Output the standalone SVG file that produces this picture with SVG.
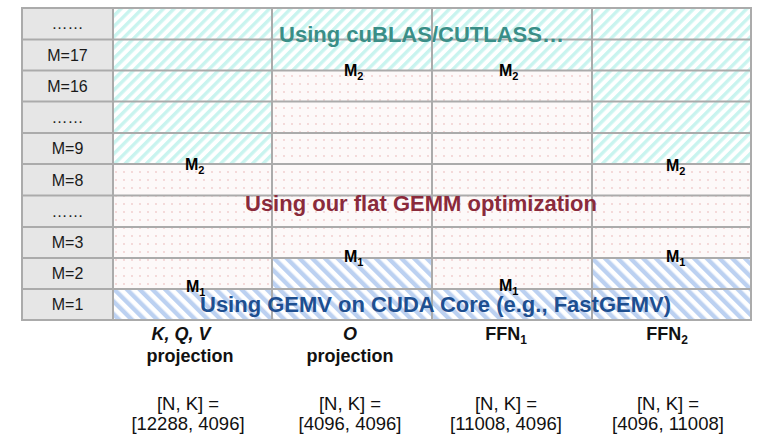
<svg xmlns="http://www.w3.org/2000/svg" width="771" height="441" viewBox="0 0 771 441">
<defs>
<pattern id="cyan" patternUnits="userSpaceOnUse" width="7.5" height="8" patternTransform="rotate(45)">
<rect width="7.5" height="8" fill="#ffffff"/>
<rect width="3.4" height="8" fill="#c9f4ef"/>
</pattern>
<pattern id="blue" patternUnits="userSpaceOnUse" width="9" height="9" patternTransform="rotate(-45)">
<rect width="9" height="9" fill="#ffffff"/>
<rect width="4.4" height="9" fill="#bcd1f1"/>
</pattern>
<pattern id="dots" patternUnits="userSpaceOnUse" width="8" height="8">
<rect width="8" height="8" fill="#fdf9f9"/>
<circle cx="4" cy="4" r="0.9" fill="#f0cccc"/>
</pattern>
</defs>
<style>
.lbl{font-family:"Liberation Sans",Arial,sans-serif;font-size:16px;fill:#1a1a1a;text-anchor:middle}
.m{font-family:"Liberation Sans",Arial,sans-serif;font-size:16px;font-weight:bold;fill:#000}
.sub{font-size:11px}
.big{font-family:"Liberation Sans",Arial,sans-serif;font-size:22px;font-weight:bold;text-anchor:middle}
.hd{font-family:"Liberation Sans",Arial,sans-serif;font-size:18px;font-weight:bold;fill:#111;text-anchor:middle}
.nk{font-family:"Liberation Sans",Arial,sans-serif;font-size:18.5px;fill:#111;text-anchor:middle}
.grid{stroke:#ababab;stroke-width:2;fill:none}
</style>
<g id="row-labels">
<rect x="22" y="8" width="91" height="312" fill="#e6e6e6"/>
<text class="lbl" x="67.5" y="29">……</text>
<text class="lbl" x="67.5" y="61">M=17</text>
<text class="lbl" x="67.5" y="92">M=16</text>
<text class="lbl" x="67.5" y="123">……</text>
<text class="lbl" x="67.5" y="154">M=9</text>
<text class="lbl" x="67.5" y="186">M=8</text>
<text class="lbl" x="67.5" y="217">……</text>
<text class="lbl" x="67.5" y="248">M=3</text>
<text class="lbl" x="67.5" y="279">M=2</text>
<text class="lbl" x="67.5" y="310">M=1</text>
</g>
<g id="col-kqv">
<rect x="113" y="8" width="159" height="156" fill="url(#cyan)"/>
<rect x="113" y="164" width="159" height="125" fill="url(#dots)"/>
<rect x="113" y="289" width="159" height="31" fill="url(#blue)"/>
</g>
<g id="col-o">
<rect x="272" y="8" width="160" height="62" fill="url(#cyan)"/>
<rect x="272" y="70" width="160" height="188" fill="url(#dots)"/>
<rect x="272" y="258" width="160" height="62" fill="url(#blue)"/>
</g>
<g id="col-ffn1">
<rect x="432" y="8" width="160" height="62" fill="url(#cyan)"/>
<rect x="432" y="70" width="160" height="219" fill="url(#dots)"/>
<rect x="432" y="289" width="160" height="31" fill="url(#blue)"/>
</g>
<g id="col-ffn2">
<rect x="592" y="8" width="159" height="156" fill="url(#cyan)"/>
<rect x="592" y="164" width="159" height="94" fill="url(#dots)"/>
<rect x="592" y="258" width="159" height="62" fill="url(#blue)"/>
</g>
<g id="grid" class="grid">
<rect x="22" y="8" width="729" height="312"/>
<path d="M113 8V320M272 8V320M432 8V320M592 8V320"/>
<path d="M22 39.5H751M22 70.5H751M22 101.5H751M22 133H751M22 164H751M22 195.5H751M22 227H751M22 258H751M22 289H751"/>
</g>
<g id="m-labels">
<text class="m" x="185" y="170">M<tspan class="sub" dy="4">2</tspan></text>
<text class="m" x="344" y="76">M<tspan class="sub" dy="4">2</tspan></text>
<text class="m" x="499" y="76">M<tspan class="sub" dy="4">2</tspan></text>
<text class="m" x="666" y="171">M<tspan class="sub" dy="4">2</tspan></text>
<text class="m" x="186" y="292">M<tspan class="sub" dy="4">1</tspan></text>
<text class="m" x="344" y="262">M<tspan class="sub" dy="4">1</tspan></text>
<text class="m" x="499" y="291">M<tspan class="sub" dy="4">1</tspan></text>
<text class="m" x="666" y="262">M<tspan class="sub" dy="4">1</tspan></text>
</g>
<g id="region-titles">
<text class="big" x="421.5" y="42" fill="#3a8e87">Using cuBLAS/CUTLASS…</text>
<text class="big" x="421" y="211" fill="#8a2a3b">Using our flat GEMM optimization</text>
<text class="big" x="435.5" y="312" fill="#1e4f90">Using GEMV on CUDA Core (e.g., FastGEMV)</text>
</g>
<g id="col-headers">
<text class="hd" x="181" y="340" font-style="italic">K, Q, V</text>
<text class="hd" x="190" y="362">projection</text>
<text class="hd" x="350" y="340" font-style="italic">O</text>
<text class="hd" x="350" y="362">projection</text>
<text class="hd" x="506" y="340">FFN<tspan font-size="12" dy="4">1</tspan></text>
<text class="hd" x="667" y="340">FFN<tspan font-size="12" dy="4">2</tspan></text>
<text class="nk" x="188" y="410">[N, K] =</text>
<text class="nk" x="188" y="430">[12288, 4096]</text>
<text class="nk" x="350" y="410">[N, K] =</text>
<text class="nk" x="350" y="430">[4096, 4096]</text>
<text class="nk" x="506" y="410">[N, K] =</text>
<text class="nk" x="506" y="430">[11008, 4096]</text>
<text class="nk" x="668" y="410">[N, K] =</text>
<text class="nk" x="668" y="430">[4096, 11008]</text>
</g>
</svg>
